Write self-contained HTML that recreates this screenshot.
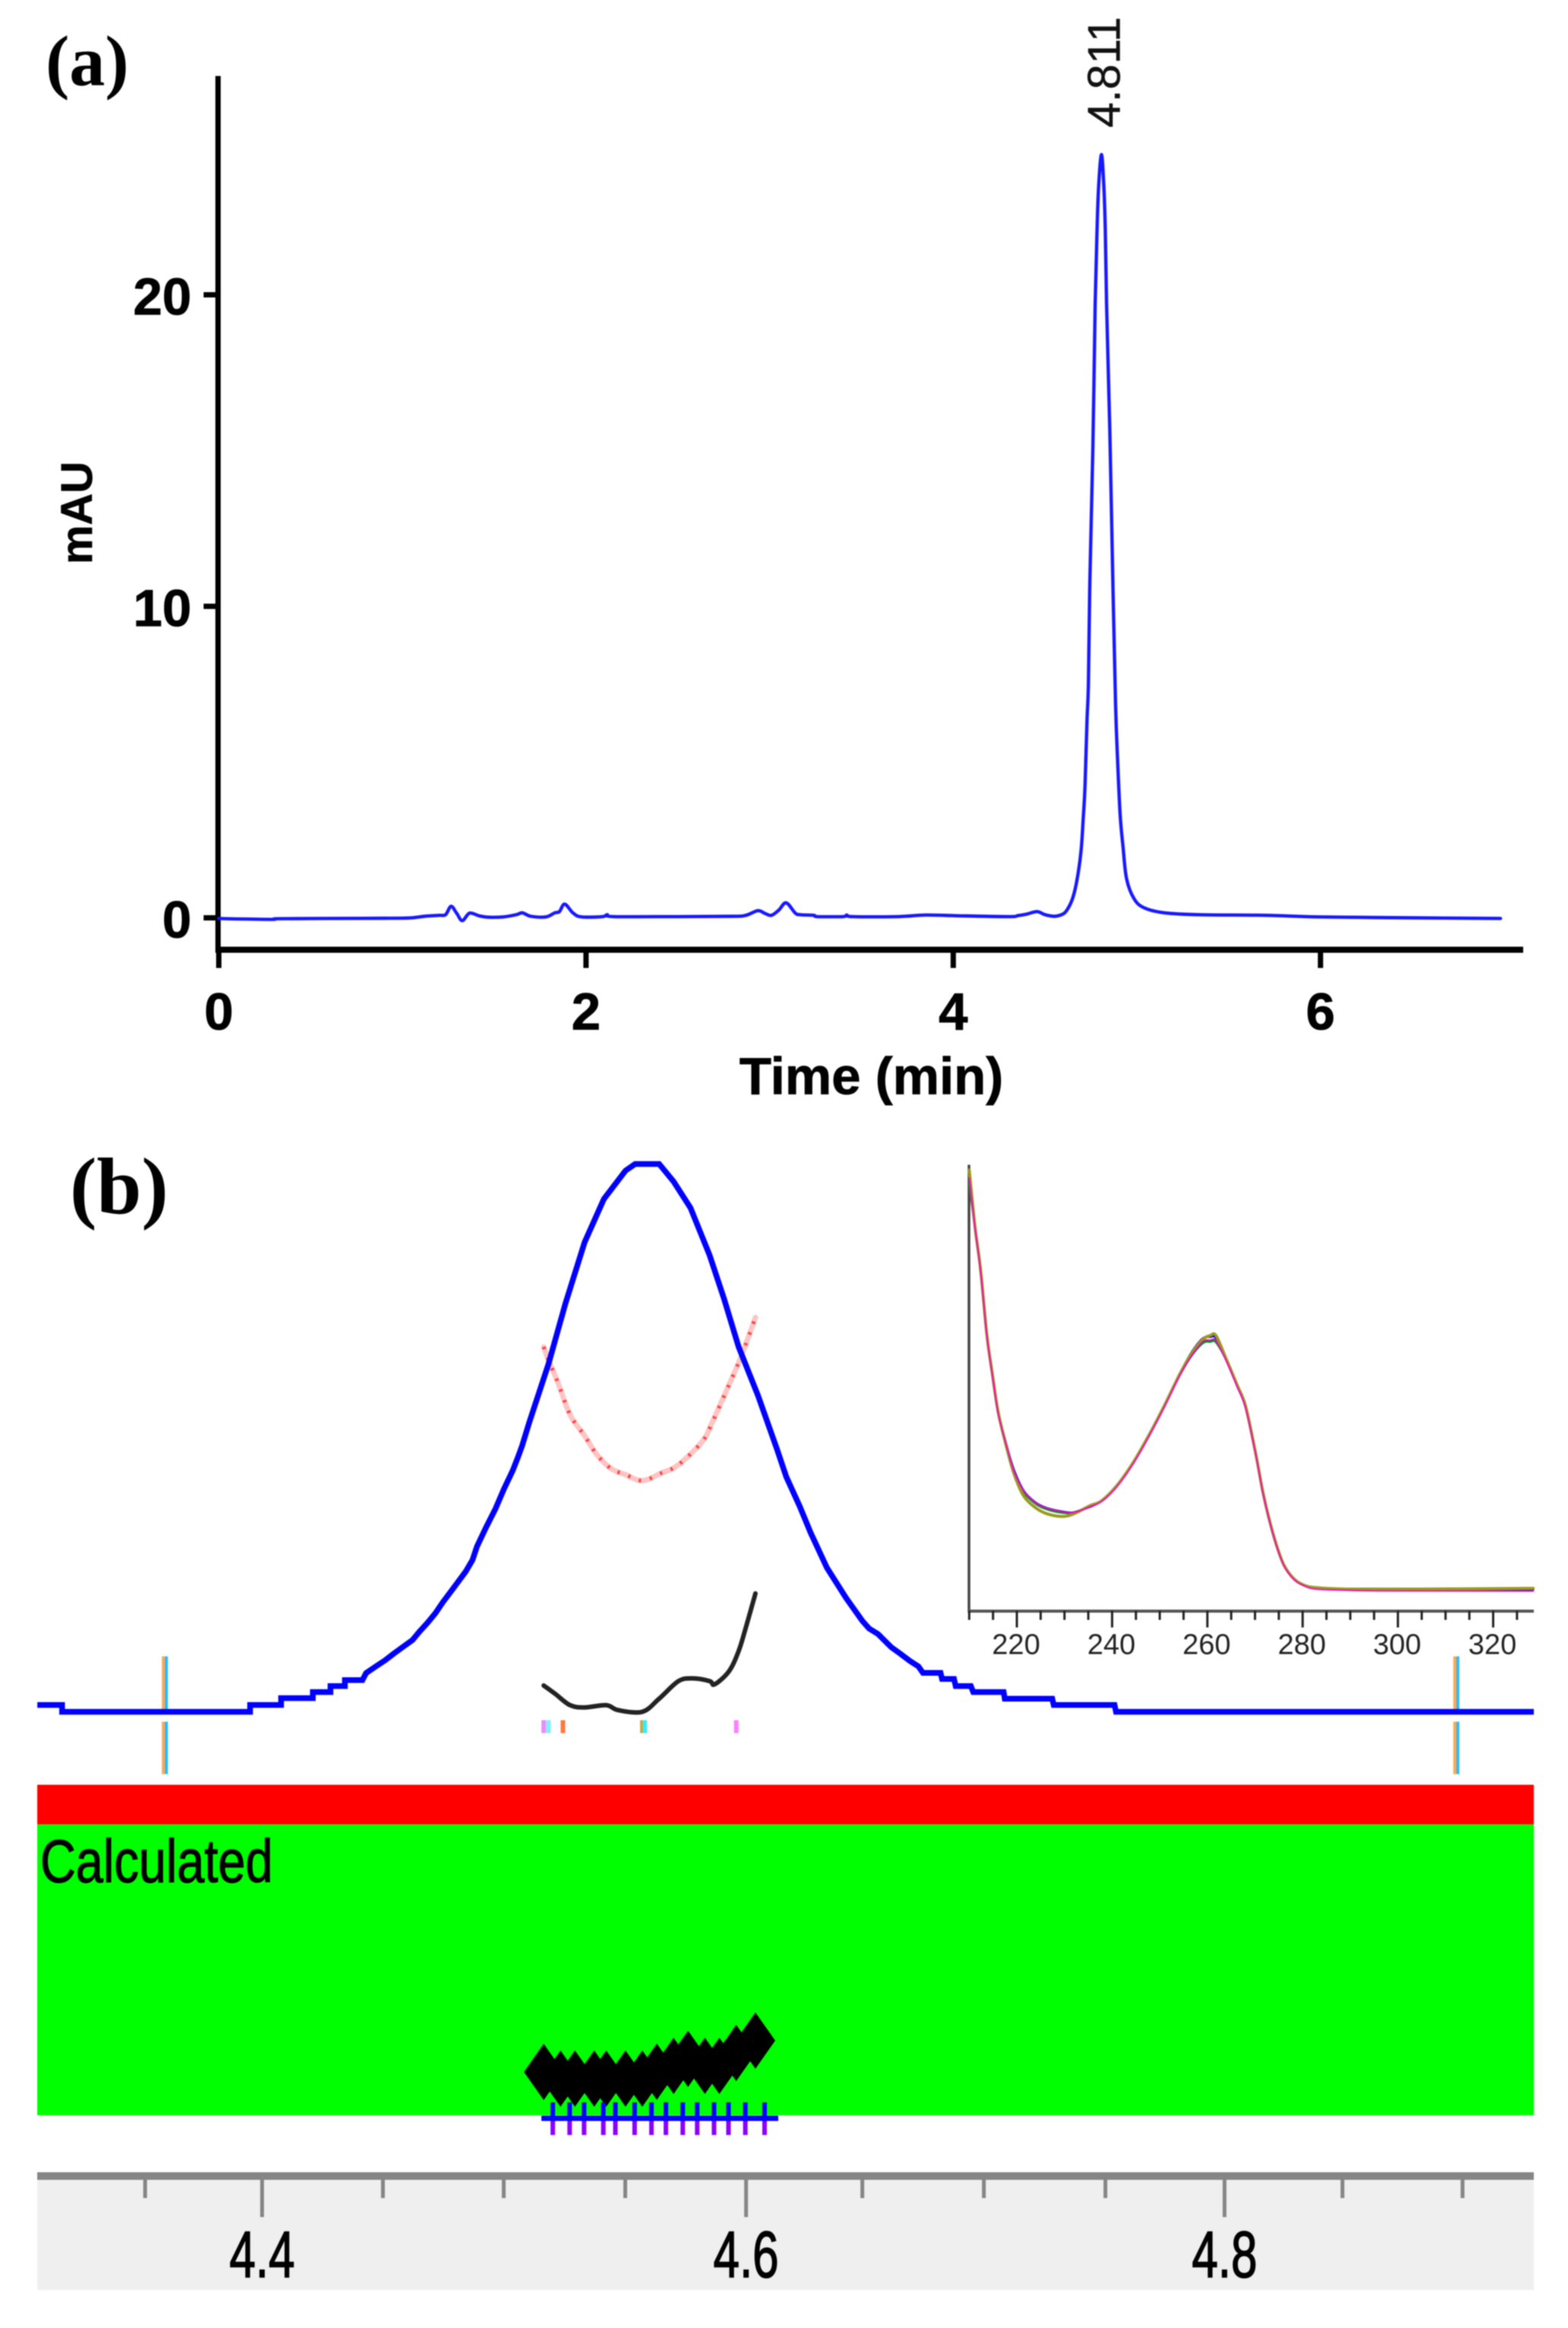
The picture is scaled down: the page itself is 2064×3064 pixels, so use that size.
<!DOCTYPE html>
<html lang="en">
<head>
<meta charset="utf-8">
<title>HPLC chromatogram and peak purity</title>
<style>
html,body{margin:0;padding:0;background:#fff;}
svg{display:block;filter:blur(0.7px);}
text{font-family:"Liberation Sans",sans-serif;}
</style>
</head>
<body>
<svg id="figure" xmlns="http://www.w3.org/2000/svg" width="2064" height="3064" viewBox="0 0 2064 3064">
  <rect x="0" y="0" width="2064" height="3064" fill="#ffffff"/>
  <g id="panelA">
    <text x="60" y="112" font-size="94" font-weight="700" fill="#000" style="font-family:'Liberation Serif',serif">(a)</text>
    <text transform="translate(121,675) rotate(-90)" text-anchor="middle" font-size="58" font-weight="700" fill="#000" stroke="#000" stroke-width="0.6">mAU</text>
    <text x="1147" y="1440" text-anchor="middle" font-size="69" font-weight="700" fill="#000" stroke="#000" stroke-width="0.8">Time (min)</text>
    <text transform="translate(1474,168) rotate(-90)" font-size="60" fill="#111" stroke="#111" stroke-width="0.4" textLength="146" lengthAdjust="spacingAndGlyphs">4.811</text>
  </g>
  <g id="panelB">
    <text x="92" y="1597" font-size="106" font-weight="700" fill="#000" style="font-family:'Liberation Serif',serif">(b)</text>
    <rect x="49" y="2349" width="1970" height="52" fill="#ff0000"/>
    <rect x="49" y="2401" width="1970" height="383" fill="#00ff00"/>
    <text transform="translate(53,2477) scale(0.81,1)" font-size="80" fill="#000" stroke="#000" stroke-width="1.2">Calculated</text>
    <rect x="49" y="2867" width="1970" height="147" fill="#efefef"/>
    <rect x="49" y="2859" width="1970" height="10" fill="#858585"/>
  </g>
<script>
// ---------- Panel (a) chromatogram data ----------
const chromTimes = [0,0.05,0.15,0.3,0.32,0.6,1.0,1.08,1.12,1.2,1.235,1.265,1.295,1.326,1.366,1.42,1.47,1.55,1.62,1.653,1.7,1.782,1.83,1.855,1.884,1.93,1.976,2.09,2.115,2.15,2.5,2.798,2.87,2.936,2.975,3.01,3.05,3.09,3.14,3.167,3.24,3.26,3.4,3.42,3.45,3.7,3.85,4.0,4.3,4.352,4.4,4.456,4.5,4.546,4.58,4.613,4.649,4.675,4.696,4.708,4.718,4.728,4.736,4.744,4.76,4.773,4.783,4.792,4.807,4.82,4.828,4.835,4.853,4.87,4.884,4.895,4.909,4.925,4.944,4.985,5.04,5.15,5.345,5.7,6.0,6.5,6.98];
const chromValues = [-0.02,-0.03,-0.04,-0.05,-0.03,-0.02,-0.01,0.02,0.05,0.08,0.1,0.37,0.15,-0.09,0.15,0.06,0.02,0.03,0.1,0.16,0.05,0.03,0.16,0.2,0.44,0.15,0.03,0.04,0.1,0.04,0.04,0.05,0.08,0.23,0.14,0.08,0.25,0.48,0.15,0.1,0.08,0.04,0.04,0.09,0.04,0.04,0.09,0.07,0.04,0.07,0.12,0.2,0.1,0.05,0.08,0.2,0.61,1.25,2.15,3.2,4.27,6.3,7.5,10.8,15,19.7,22.1,23.5,24.5,23.5,22.1,19.7,15.5,10.5,6.8,5.07,3.3,2.25,1.25,0.61,0.32,0.16,0.1,0.08,0.03,0,-0.02];
const chromXTicks = [0,2,4,6];
const chromYTicks = [0,10,20];

// ---------- Panel (b) peak purity data ----------
const peakTimes = [4.3066,4.3169,4.3169,4.395,4.395,4.4079,4.4079,4.4211,4.4211,4.4284,4.4284,4.4344,4.4344,4.4417,4.4432,4.4473,4.4511,4.4546,4.4584,4.4625,4.4653,4.4688,4.472,4.4751,4.4795,4.4846,4.4874,4.4893,4.4931,4.4969,4.5004,4.5042,4.5064,4.508,4.511,4.519,4.526,4.534,4.542,4.551,4.555,4.565,4.571,4.578,4.586,4.592,4.598,4.606,4.6139,4.6178,4.6235,4.6279,4.6347,4.6426,4.6494,4.6522,4.6559,4.6614,4.6652,4.6691,4.6727,4.6746,4.6819,4.6825,4.6875,4.6882,4.6945,4.6955,4.7081,4.7086,4.7283,4.7289,4.7542,4.7548,4.9284];
const peakValues = [1.25,1.25,0,0,1.25,1.25,2.5,2.5,3.6,3.6,4.7,4.7,5.8,5.8,7.07,8.3,9.4,10.6,11.8,13.1,14.6,16.3,18,20,22.6,25.6,27.7,30.2,33.7,37,40.6,44.1,46.6,48.5,52.8,63.5,74.5,85.7,93.6,98.8,100,100,96.8,92,83.3,75.3,66.6,57.8,48,42.9,37.4,32.7,26.3,20.8,16.6,15.2,14.2,11.8,10.6,9.3,8.3,7.1,7.1,6,6,4.7,4.7,3.6,3.6,2.4,2.4,1.25,1.25,0,0];
const purityTimes = [4.517,4.519,4.523,4.528,4.534,4.539,4.545,4.551,4.558,4.566,4.573,4.583,4.587,4.593,4.599,4.605];
const purityValues = [66.6,64.2,60,54.2,50.4,47,44.4,43.3,42.2,43.6,45.1,49.4,52.8,58.7,64.8,72];
const thresholdTimes = [4.517,4.522,4.528,4.534,4.543,4.548,4.558,4.565,4.573,4.579,4.586,4.588,4.594,4.598,4.601,4.605];
const thresholdValues = [4.8,3.2,1.2,0.8,1.2,0.3,0,2.4,5.6,6.1,5.6,5.0,7.4,11.1,15.4,21.6];
const integrationTimes = [4.3596,4.8962];
const apexMarkerTimes = [4.517,4.519,4.525,4.558,4.559,4.597];
const apexMarkerColors = ["#e98cff","#7ff0ff","#ff7a3c","#d8a030","#40e8f0","#ff80ff"];
const scanTimes = [4.517,4.524,4.530,4.538,4.543,4.551,4.558,4.564,4.571,4.577,4.584,4.590,4.597,4.605];
const scanAngles = [5.7,4.83,4.83,4.83,4.83,4.83,4.83,5.73,6.5,7.43,6.5,6.5,8.2,9.83];
const rulerMinorTicks = [4.3514,4.4502,4.5004,4.5509,4.6494,4.6999,4.7504,4.8489,4.8988];
const rulerMajorTicks = [4.4,4.6011,4.7999];
const rulerLabels = ["4.4","4.6","4.8"];

// ---------- Inset spectrum data ----------
const wavelengths = [210,211.2,212.4,213.7,214.9,216.1,217.8,219.4,221.4,223.9,226.3,229.6,232,235.3,237.8,241,244.3,247.6,250.8,254.1,256.5,259,260.6,261.8,263.9,266.3,268,270,271.6,272.9,274.5,276.1,278.2,280.2,282.7,289.2,297.3,328.4];
const spectrumBlue = [160,143.2,125.8,100.4,84.4,69.7,57,47,38.9,34.2,32,30.6,30.3,32.5,34.9,40.9,49.6,60.3,71.7,84.4,92.8,98.8,99.5,99,90.6,80,72,54.9,38.9,28.2,17.5,9.5,4.1,1.7,0.4,-0.1,-0.1,-0.1];
const spectrumGreen = [160,143.2,125.8,100.4,84.4,69.7,57,46.5,38.5,33.8,31.6,30.2,30.3,32.7,34.9,40.9,49.6,60.3,71.7,84,91.6,97,97.6,97.4,90.6,80,72,54.9,38.9,28.2,17.5,9.5,4.1,1.7,0.4,0.2,0.2,0.3];
const spectrumMagenta = [162,142.6,125.2,99.8,83.8,69.1,56.8,46.6,38.9,34.2,32,30.6,30.3,32.5,34.6,40.4,49.1,59.8,71.2,83.9,91.6,97.6,98.2,98,90.2,79.6,71.6,54.5,38.5,27.9,17.2,9.2,3.8,1.5,0.1,-0.4,-0.6,-0.7];
const spectrumOlive = [165.2,143.2,125.8,100.4,84.4,69.7,56.3,45.6,36.9,32.2,29.8,28.7,29.8,32.9,34.9,40.9,49.6,60.3,71.7,84.4,92.4,98.4,100,100,91,80.3,72.3,54.9,38.9,28.2,17.5,9.5,4.1,1.7,0.7,0.1,0,0.4];
const spectrumMajorTicks = [220,240,260,280,300,320];
const spectrumMinorTicks = [210,215,225,230,235,245,250,255,265,270,275,285,290,295,305,310,315,325];

// ---------- Axis functions ----------
const chromX = t => 288 + t * 241.7;
const chromY = v => 1208 - v * 41;
const peakX = t => 345 + (t - 4.4) * 3168;
const peakY = v => 2253 - v * 7.21;
const angleY = a => 2784 - a * 10;
const specX = w => 1275.8 + (w - 210) * 6.27;
const specY = a => 2091.8 - a * 3.34;

const NS = "http://www.w3.org/2000/svg";
const panelA = document.getElementById("panelA");
const panelB = document.getElementById("panelB");

function makeLine(parent, x1, y1, x2, y2, color, width) {
  const el = document.createElementNS(NS, "line");
  el.setAttribute("x1", x1);
  el.setAttribute("y1", y1);
  el.setAttribute("x2", x2);
  el.setAttribute("y2", y2);
  el.setAttribute("stroke", color);
  el.setAttribute("stroke-width", width);
  parent.appendChild(el);
  return el;
}
function makePath(parent, xs, ys, xFn, yFn, color, width) {
  const el = document.createElementNS(NS, "polyline");
  el.setAttribute("points", xs.map((x, i) => xFn(x).toFixed(1) + "," + yFn(ys[i]).toFixed(1)).join(" "));
  el.setAttribute("fill", "none");
  el.setAttribute("stroke", color);
  el.setAttribute("stroke-width", width);
  el.setAttribute("stroke-linejoin", "miter");
  parent.appendChild(el);
  return el;
}
function makeSmooth(parent, xs, ys, xFn, yFn, color, width) {
  const px = xs.map(xFn);
  const py = ys.map(yFn);
  let d = "M" + px[0].toFixed(1) + "," + py[0].toFixed(1);
  for (let i = 0; i < px.length - 1; i++) {
    const a = Math.max(i - 1, 0);
    const b = Math.min(i + 2, px.length - 1);
    const c1x = px[i] + (px[i + 1] - px[a]) / 6;
    const c1y = py[i] + (py[i + 1] - py[a]) / 6;
    const c2x = px[i + 1] - (px[b] - px[i]) / 6;
    const c2y = py[i + 1] - (py[b] - py[i]) / 6;
    d += "C" + c1x.toFixed(1) + "," + c1y.toFixed(1) + " " + c2x.toFixed(1) + "," + c2y.toFixed(1) + " " + px[i + 1].toFixed(1) + "," + py[i + 1].toFixed(1);
  }
  const el = document.createElementNS(NS, "path");
  el.setAttribute("d", d);
  el.setAttribute("fill", "none");
  el.setAttribute("stroke", color);
  el.setAttribute("stroke-width", width);
  el.setAttribute("stroke-linejoin", "round");
  el.setAttribute("stroke-linecap", "round");
  parent.appendChild(el);
  return el;
}
function makeText(parent, x, y, str, size, weight, anchor, color) {
  const el = document.createElementNS(NS, "text");
  el.setAttribute("x", x);
  el.setAttribute("y", y);
  el.setAttribute("font-size", size);
  el.setAttribute("font-weight", weight);
  el.setAttribute("text-anchor", anchor);
  el.setAttribute("fill", color);
  el.textContent = str;
  parent.appendChild(el);
  return el;
}

// ---------- Panel (a) ----------
const yAxis = makeLine(panelA, 287, 100, 287, 1254, "#000", 7);


const xAxis = makeLine(panelA, 284, 1250, 2005, 1250, "#000", 8);


chromXTicks.forEach(t => {
  const tick = makeLine(panelA, chromX(t), 1250, chromX(t), 1274, "#000", 7);
  
  
  const label = makeText(panelA, chromX(t), 1355, String(t), 69, 700, "middle", "#000");
  label.setAttribute("stroke", "#000");
  label.setAttribute("stroke-width", "0.8");
  
  
});
chromYTicks.forEach(v => {
  const tick = makeLine(panelA, 268, chromY(v), 287, chromY(v), "#000", 7);
  
  
  const label = makeText(panelA, 252, chromY(v) + 26, String(v), 69, 700, "end", "#000");
  label.setAttribute("stroke", "#000");
  label.setAttribute("stroke-width", "0.8");
  
  
});
const chromLine = makeSmooth(panelA, chromTimes, chromValues, chromX, chromY, "#1818ff", 4.4);



// ---------- Panel (b) main ----------
integrationTimes.forEach(t => {
  const x = peakX(t);
  [[2180, 2250], [2266, 2335]].forEach(seg => {
    const left = makeLine(panelB, x - 2, seg[0], x - 2, seg[1], "#ffa850", 4);
    
    
    const right = makeLine(panelB, x + 2, seg[0], x + 2, seg[1], "#28bcff", 4);
    
    
  });
});
const purityHalo = makeSmooth(panelB, purityTimes, purityValues, peakX, peakY, "#ffc4c4", 7);


const purityDots = makeSmooth(panelB, purityTimes, purityValues, peakX, peakY, "#ff4040", 5);
purityDots.setAttribute("stroke-dasharray", "3 12");
purityDots.setAttribute("stroke-linecap", "butt");


const peakLine = makePath(panelB, peakTimes, peakValues, peakX, peakY, "#0000ff", 7.5);


const thresholdLine = makeSmooth(panelB, thresholdTimes, thresholdValues, peakX, peakY, "#222", 6);


apexMarkerTimes.forEach((t, i) => {
  const mark = makeLine(panelB, peakX(t), 2264, peakX(t), 2281, apexMarkerColors[i], 6);
  
  
});

// Purity diamonds
scanTimes.forEach((t, i) => {
  const x = peakX(t);
  const y = angleY(scanAngles[i]);
  const d = document.createElementNS(NS, "polygon");
  d.setAttribute("points", [[x - 26, y], [x, y - 37], [x + 26, y], [x, y + 37]].map(p => p[0].toFixed(1) + "," + p[1].toFixed(1)).join(" "));
  d.setAttribute("fill", "#000");
  
  
  panelB.appendChild(d);
});
scanTimes.forEach(t => {
  const x = peakX(t) + 12;
  const upper = makeLine(panelB, x, 2767, x, 2788, "#0000ff", 6);
  
  
  const lower = makeLine(panelB, x, 2788, x, 2810, "#8a00ff", 6);
  
  
});
const scanLine = makeLine(panelB, peakX(scanTimes[0]) - 3, 2788, peakX(scanTimes[scanTimes.length - 1]) + 30, 2788, "#0000ff", 7);



// Time ruler
rulerMinorTicks.forEach(t => {
  const tick = makeLine(panelB, peakX(t), 2866, peakX(t), 2893, "#858585", 5);
  
  
});
rulerMajorTicks.forEach((t, i) => {
  const tick = makeLine(panelB, peakX(t), 2866, peakX(t), 2918, "#858585", 5);
  
  
  const label = makeText(panelB, 0, 0, rulerLabels[i], 86, 400, "middle", "#000");
  label.setAttribute("transform", "translate(" + peakX(t) + ",2997) scale(0.72,1)");
  label.setAttribute("stroke", "#000");
  label.setAttribute("stroke-width", "1.6");
  
  
});

// ---------- Inset spectrum ----------
const specYAxis = makeLine(panelB, 1275.5, 1533, 1275.5, 2122, "#444", 3.5);


const specXAxis = makeLine(panelB, 1274, 2120.5, 2019, 2120.5, "#555", 4);


spectrumMinorTicks.forEach(w => {
  const tick = makeLine(panelB, specX(w), 2120, specX(w), 2132, "#222", 3);
  
  
});
spectrumMajorTicks.forEach(w => {
  const tick = makeLine(panelB, specX(w), 2120, specX(w), 2142, "#222", 3);
  
  
  const label = makeText(panelB, specX(w) - 1, 2177, String(w), 38, 400, "middle", "#222");
  
  
});
const blueSpec = makeSmooth(panelB, wavelengths, spectrumBlue, specX, specY, "#0000e0", 3);


const greenSpec = makeSmooth(panelB, wavelengths, spectrumGreen, specX, specY, "#008a20", 3);


const oliveSpec = makeSmooth(panelB, wavelengths, spectrumOlive, specX, specY, "#9a9a1e", 4);


const magentaSpec = makeSmooth(panelB, wavelengths, spectrumMagenta, specX, specY, "#ff00c8", 1.8);


</script>
</svg>
</body>
</html>
